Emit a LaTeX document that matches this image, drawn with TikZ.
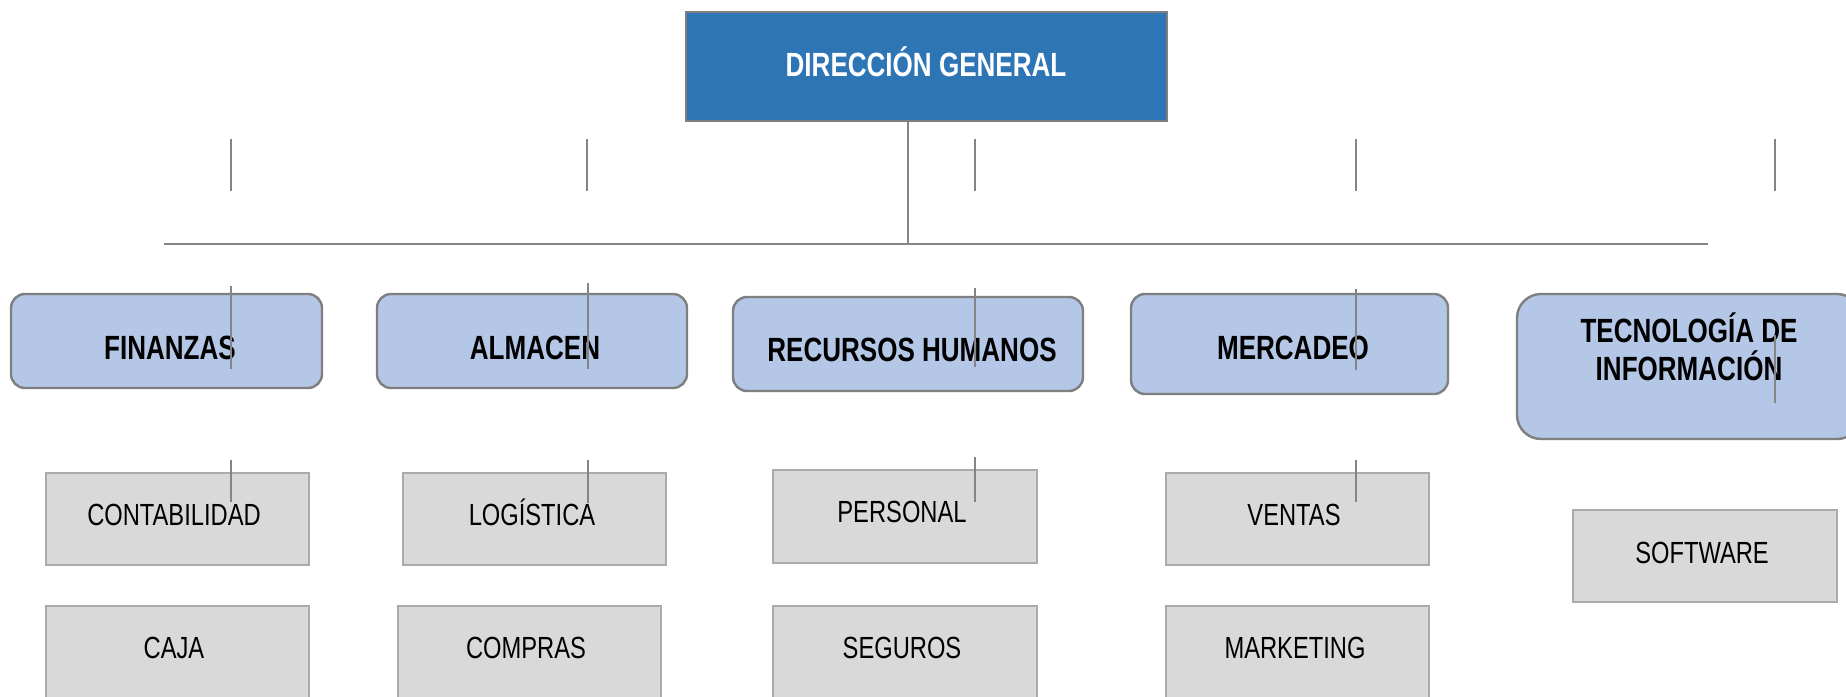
\documentclass[tikz,border=0pt]{standalone}
\usepackage{fontspec}
\setmainfont{Liberation Sans}[FakeStretch=0.775]
\definecolor{topblue}{HTML}{2E75B6}
\definecolor{midblue}{HTML}{B4C7E7}
\definecolor{boxgray}{HTML}{D9D9D9}
\definecolor{edgegray}{HTML}{7F7F7F}
\definecolor{edgelight}{HTML}{ABABAB}
\definecolor{linegray}{HTML}{858585}
\begin{document}
\begin{tikzpicture}[x=0.5pt,y=-0.5pt,
  topbox/.style={draw=edgegray,line width=1.4pt,fill=topblue,inner sep=0pt},
  deptbox/.style={draw=edgegray,line width=1.2pt,fill=midblue,inner sep=0pt,rounded corners=7pt},
  unitbox/.style={draw=edgelight,line width=1pt,fill=boxgray,inner sep=0pt},
  toptxt/.style={anchor=base,inner sep=0pt,text=white,font=\bfseries\fontsize{16.8}{18}\selectfont},
  depttxt/.style={anchor=base,inner sep=0pt,text=black,font=\bfseries\fontsize{16.8}{18}\selectfont},
  unittxt/.style={anchor=base,inner sep=0pt,text=black,font=\fontsize{15.3}{17}\selectfont},
  thinline/.style={draw=linegray,line width=0.75pt},
  hline/.style={draw=linegray,line width=1.1pt},
  trunkline/.style={draw=linegray,line width=1.4pt}]
\clip (0,0) rectangle (1846,696);
\fill[white] (0,0) rectangle (1846,696);

% boxes
\node[topbox,minimum width=240.5pt,minimum height=54.5pt] (top) at (926.5,66.5) {};
\node[deptbox,minimum width=155.5pt,minimum height=47pt] (fin) at (166.5,341) {};
\node[deptbox,minimum width=155pt,minimum height=47pt] (alm) at (532,341) {};
\node[deptbox,minimum width=175pt,minimum height=47pt] (rrhh) at (908,344) {};
\node[deptbox,minimum width=158.5pt,minimum height=50pt] (mer) at (1289.5,344) {};
\node[deptbox,rounded corners=12pt,minimum width=172pt,minimum height=72.5pt] (ti) at (1689,366.5) {};

\node[unitbox,minimum width=131.5pt,minimum height=46pt] (cont) at (177.5,519) {};
\node[unitbox,minimum width=131.5pt,minimum height=46pt] (caja) at (177.5,652) {};
\node[unitbox,minimum width=131.5pt,minimum height=46pt] (log) at (534.5,519) {};
\node[unitbox,minimum width=131.5pt,minimum height=46pt] (comp) at (529.5,652) {};
\node[unitbox,minimum width=132pt,minimum height=46.5pt] (pers) at (905,516.5) {};
\node[unitbox,minimum width=132pt,minimum height=46pt] (seg) at (905,652) {};
\node[unitbox,minimum width=131.5pt,minimum height=46pt] (vent) at (1297.5,519) {};
\node[unitbox,minimum width=131.5pt,minimum height=46pt] (mark) at (1297.5,652) {};
\node[unitbox,minimum width=132pt,minimum height=46pt] (soft) at (1705,556) {};

% texts
\node[toptxt] (topT) at (926,76) {DIRECCIÓN GENERAL};
\node[depttxt] (finT) at (170,359) {FINANZAS};
\node[depttxt] (almT) at (535,359) {ALMACEN};
\node[depttxt] (rrhhT) at (912,361) {RECURSOS HUMANOS};
\node[depttxt] (merT) at (1293,359) {MERCADEO};
\node[depttxt] (tiT1) at (1689,342) {TECNOLOGÍA DE};
\node[depttxt] (tiT2) at (1689,380) {INFORMACIÓN};
\node[unittxt] (contT) at (174,525) {CONTABILIDAD};
\node[unittxt] (cajaT) at (174,658) {CAJA};
\node[unittxt] (logT) at (532,525) {LOGÍSTICA};
\node[unittxt] (compT) at (526,658) {COMPRAS};
\node[unittxt] (persT) at (902,522) {PERSONAL};
\node[unittxt] (segT) at (902,658) {SEGUROS};
\node[unittxt] (ventT) at (1294,525) {VENTAS};
\node[unittxt] (markT) at (1295,658) {MARKETING};
\node[unittxt] (softT) at (1702,563) {SOFTWARE};

% main connectors
\coordinate (hl) at (164,244);
\coordinate (hr) at (1708,244);
\coordinate (tr) at (908,244);
\draw[hline] (hl) -- (hr);
\draw[trunkline] (top.south -| tr) -- (tr);

% floating vertical ticks (top row)
\foreach \n/\x in {a/231,b/587,c/975,d/1356,e/1775}{
  \coordinate (\n1) at (\x,139);
  \coordinate (\n2) at (\x,191);
  \draw[thinline] (\n1) -- (\n2);
}
% ticks over department boxes
\coordinate (f1) at (231,286); \coordinate (f2) at (231,369);
\coordinate (g1) at (588,283); \coordinate (g2) at (588,369);
\coordinate (k1) at (975,288); \coordinate (k2) at (975,367);
\coordinate (m1) at (1356,289); \coordinate (m2) at (1356,370);
\coordinate (t1) at (1775,335); \coordinate (t2) at (1775,403);
\draw[thinline] (f1) -- (f2);
\draw[thinline] (g1) -- (g2);
\draw[thinline] (k1) -- (k2);
\draw[thinline] (m1) -- (m2);
\draw[thinline] (t1) -- (t2);
% ticks over unit boxes
\coordinate (u1) at (231,460); \coordinate (u2) at (231,502);
\coordinate (v1) at (588,460); \coordinate (v2) at (588,503);
\coordinate (w1) at (975,457); \coordinate (w2) at (975,502);
\coordinate (z1) at (1356,460); \coordinate (z2) at (1356,502);
\draw[thinline] (u1) -- (u2);
\draw[thinline] (v1) -- (v2);
\draw[thinline] (w1) -- (w2);
\draw[thinline] (z1) -- (z2);
\end{tikzpicture}
\end{document}
